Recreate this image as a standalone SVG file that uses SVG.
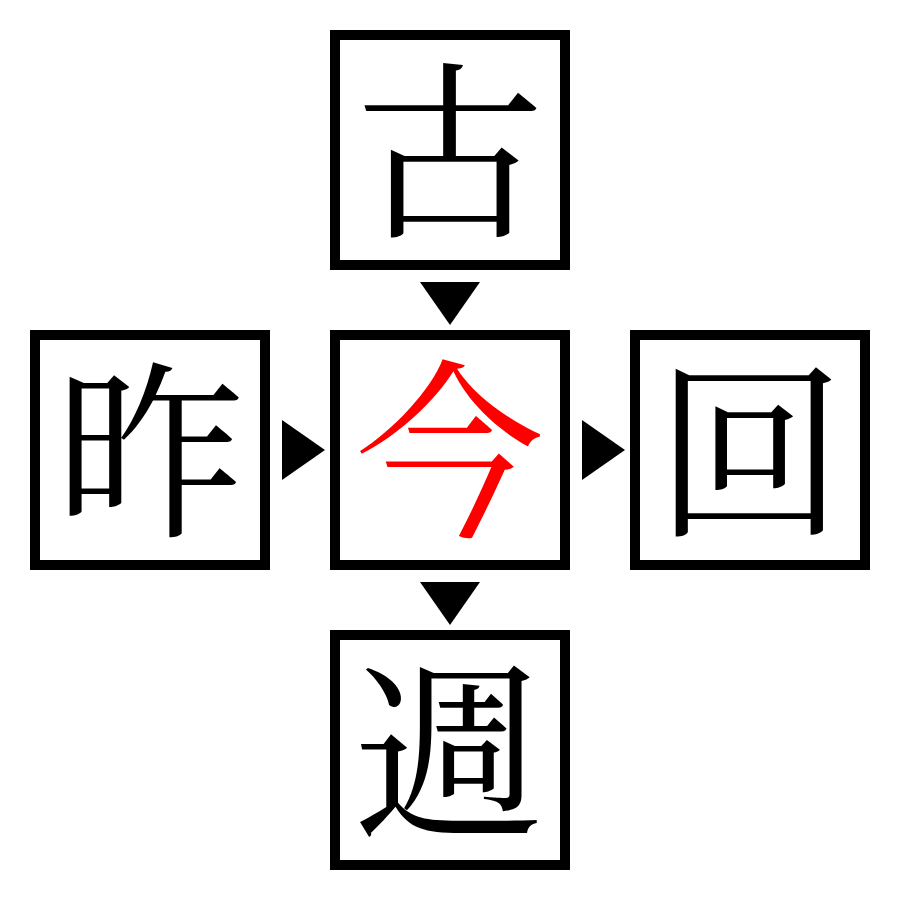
<svg xmlns="http://www.w3.org/2000/svg" width="900" height="900" viewBox="0 0 900 900">
<style>
.box{fill:#fff;stroke:#000;stroke-width:10}
.ch{font-family:"Noto Serif CJK JP","Noto Sans CJK JP",serif;font-size:190px;text-anchor:middle;fill:#000}
.red{fill:#ff0000}
.arr{fill:#000}
</style>
<rect width="900" height="900" fill="#fff"/>
<g id="node-top"><rect class="box" x="335" y="35" width="230" height="230"/><text class="ch" x="450" y="222">古</text></g>
<g id="node-left"><rect class="box" x="35" y="335" width="230" height="230"/><text class="ch" x="150" y="522">昨</text></g>
<g id="node-center"><rect class="box" x="335" y="335" width="230" height="230"/><text class="ch red" x="450" y="522">今</text></g>
<g id="node-right"><rect class="box" x="635" y="335" width="230" height="230"/><text class="ch" x="750" y="522">回</text></g>
<g id="node-bottom"><rect class="box" x="335" y="635" width="230" height="230"/><text class="ch" x="448" y="822">週</text></g>
<g id="connectors">
<polygon class="arr" points="420,282 480,282 450,325"/>
<polygon class="arr" points="420,582 480,582 450,625"/>
<polygon class="arr" points="282,420 282,480 325,450"/>
<polygon class="arr" points="582,420 582,480 625,450"/>
</g>
</svg>
